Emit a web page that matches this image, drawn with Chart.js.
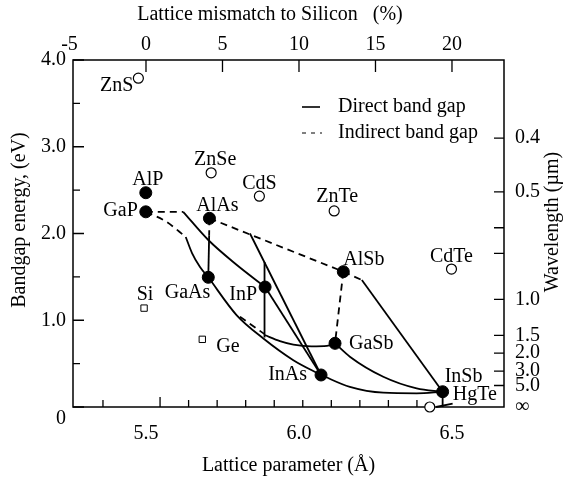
<!DOCTYPE html>
<html>
<head>
<meta charset="utf-8">
<script src="https://cdn.jsdelivr.net/npm/chart.js@4/dist/chart.umd.min.js"></script>
<style>
html,body{margin:0;padding:0;background:#fff;}
#wrap{width:569px;height:478px;}
</style>
</head>
<body>
<div id="wrap"><canvas id="c" width="569" height="478"></canvas></div>
<script>
// ---------------- DATA ----------------
// III-V compounds (filled circles): lattice parameter (Å), band gap (eV)
const iiivNames   = ['AlP', 'GaP', 'AlAs', 'GaAs', 'InP', 'AlSb', 'GaSb', 'InAs', 'InSb'];
const iiivLattice = [5.45, 5.45, 5.673, 5.669, 5.868, 6.142, 6.113, 6.064, 6.49];
const iiivGap     = [2.47, 2.25, 2.175, 1.495, 1.383, 1.56, 0.734, 0.369, 0.176];

// II-VI compounds (open circles)
const iiviNames   = ['ZnS', 'ZnSe', 'CdS', 'ZnTe', 'CdTe', 'HgTe'];
const iiviLattice = [5.424, 5.679, 5.848, 6.110, 6.521, 6.445];
const iiviGap     = [3.79, 2.70, 2.43, 2.26, 1.59, 0.0];

// Group IV (open squares)
const ivNames   = ['Si', 'Ge'];
const ivLattice = [5.444, 5.648];
const ivGap     = [1.14, 0.78];

// Alloy curves: [lattice, gap] points; "ind" = indirect (dashed), "dir" = direct (solid)
const GaP_InP_ind   = [[5.45, 2.25], [5.581, 2.25]];
const GaP_InP_dir   = [[5.581, 2.25], [5.669, 1.925], [5.768, 1.64], [5.868, 1.383]];
const GaP_GaAs_ind  = [[5.45, 2.25], [5.52, 2.14], [5.59, 1.96]];
const GaP_GaAs_dir  = [[5.59, 1.96], [5.612, 1.775], [5.640, 1.614], [5.669, 1.495]];
const AlAs_GaAs_ind = [[5.673, 2.175], [5.672, 1.98]];
const AlAs_GaAs_dir = [[5.672, 1.98], [5.669, 1.495]];
const AlAs_AlSb_ind = [[5.673, 2.175], [6.142, 1.56]];
const AlSb_InSb_ind = [[6.142, 1.56], [6.207, 1.464]];
const AlSb_InSb_dir = [[6.207, 1.464], [6.49, 0.176]];
const AlSb_GaSb_ind = [[6.142, 1.56], [6.113, 0.734]];
const GaSb_InSb_dir = [[6.113, 0.734], [6.165, 0.58], [6.282, 0.349], [6.399, 0.215], [6.49, 0.176]];
const InAs_InSb_dir = [[6.064, 0.369], [6.165, 0.232], [6.282, 0.165], [6.399, 0.158], [6.49, 0.176]];
const InP_InAs_dir  = [[5.868, 1.383], [6.064, 0.369]];
const AlInAs_dir    = [[5.815, 2.0], [6.064, 0.369]];
const InP_match_dir = [[5.866, 1.671], [5.866, 0.80]];
const GaAs_InAs_dir = [[5.669, 1.495], [5.768, 1.06], [5.862, 0.79], [5.967, 0.54], [6.064, 0.369]];
const GaAsSb_ind    = [[5.78, 1.04], [5.866, 0.84]];
const GaAsSb_dir    = [[5.866, 0.83], [5.92, 0.76], [5.967, 0.72], [6.03, 0.70], [6.085, 0.705], [6.113, 0.734]];
const InSb_stub_dir = [[6.49, 0.176], [6.49, 0.0]];
const HgTe_stub_dir = [[6.467, 0.0], [6.525, 0.04]];

// Axis ticks
const energyTicks        = [0, 1, 2, 3, 4];
const energyMinorTicks   = [0.5, 1.5, 2.5, 3.5];
const latticeTickLabels  = [5.5, 6.0, 6.5];
const latticeMinorTicks  = [5.3, 5.5, 5.6, 5.7, 5.8, 5.9, 6.0, 6.1, 6.2, 6.3, 6.4];
const mismatchTicks      = [-5, 0, 5, 10, 15, 20];
const wavelengthTicks    = [0.4, 0.5, 0.6, 0.7, 1.0, 1.5, 2.0, 3.0, 5.0, Infinity];
const wavelengthLabels   = ['0.4', '0.5', '', '', '1.0', '1.5', '2.0', '3.0', '5.0', '\u221E'];

// ---------------- STYLE ----------------
const FONT = "'Liberation Serif', 'Times New Roman', serif";
Chart.defaults.font.family = FONT;
Chart.defaults.font.size = 20;
Chart.defaults.color = '#000';

const labelStyle = {
  AlP:  {dx: 2,   dy: -13, align: 'center'},
  GaP:  {dx: -8,  dy: -1,  align: 'right'},
  AlAs: {dx: 8,   dy: -13, align: 'center'},
  GaAs: {dx: 2,   dy: 15,  align: 'right'},
  InP:  {dx: -8,  dy: 8,   align: 'right'},
  AlSb: {dx: 0,   dy: -12, align: 'left'},
  GaSb: {dx: 14,  dy: 0,   align: 'left'},
  InAs: {dx: -14, dy: 0,   align: 'right'},
  InSb: {dx: 2,   dy: -15, align: 'left'},
  ZnS:  {dx: -5,  dy: 8,   align: 'right'},
  ZnSe: {dx: 4,   dy: -13, align: 'center'},
  CdS:  {dx: 0,   dy: -12, align: 'center'},
  ZnTe: {dx: 3,   dy: -14, align: 'center'},
  CdTe: {dx: 0,   dy: -12, align: 'center'},
  HgTe: {dx: 23,  dy: -12, align: 'left'},
  Si:   {dx: 1,   dy: -13, align: 'center'},
  Ge:   {dx: 14,  dy: 7,   align: 'left'}
};

const toXY = arr => arr.map(p => ({x: p[0], y: p[1]}));
const wlEnergy = w => (w === Infinity ? 0 : 1.2398 / w);

function curve(points, dashed) {
  const ds = {
    type: 'scatter',
    data: toXY(points),
    showLine: true,
    pointRadius: 0,
    borderColor: '#000',
    borderWidth: 1.8,
    borderDash: dashed ? [7, 5] : [],
    clip: false,
    xAxisID: 'x', yAxisID: 'y'
  };
  if (points.length > 2) ds.cubicInterpolationMode = 'monotone';
  return ds;
}

const markerSets = [
  {type: 'scatter', data: iiivLattice.map((x, i) => ({x, y: iiivGap[i]})),
   pointRadius: 6, pointBackgroundColor: '#000', pointBorderColor: '#000', pointBorderWidth: 1,
   showLine: false, clip: false, xAxisID: 'x', yAxisID: 'y'},
  {type: 'scatter', data: iiviLattice.map((x, i) => ({x, y: iiviGap[i]})),
   pointRadius: 5, pointBackgroundColor: '#fff', pointBorderColor: '#000', pointBorderWidth: 1.2,
   showLine: false, clip: false, xAxisID: 'x', yAxisID: 'y'},
  {type: 'scatter', data: ivLattice.map((x, i) => ({x, y: ivGap[i]})),
   pointStyle: 'rect', pointRadius: 4.5, pointBackgroundColor: '#fff', pointBorderColor: '#000', pointBorderWidth: 1,
   showLine: false, clip: false, xAxisID: 'x', yAxisID: 'y'}
];

const curveSets = [
  curve(GaP_InP_ind, true), curve(GaP_InP_dir, false),
  curve(GaP_GaAs_ind, true), curve(GaP_GaAs_dir, false),
  curve(AlAs_GaAs_ind, true), curve(AlAs_GaAs_dir, false),
  curve(AlAs_AlSb_ind, true),
  curve(AlSb_InSb_ind, true), curve(AlSb_InSb_dir, false),
  curve(AlSb_GaSb_ind, true),
  curve(GaSb_InSb_dir, false), curve(InAs_InSb_dir, false),
  curve(InP_InAs_dir, false), curve(AlInAs_dir, false),
  curve(InP_match_dir, false), curve(GaAs_InAs_dir, false),
  curve(GaAsSb_ind, true), curve(GaAsSb_dir, false),
  curve(InSb_stub_dir, false), curve(HgTe_stub_dir, false)
];

function rotatedText(ctx, text, x, y) {
  ctx.save();
  ctx.translate(x, y);
  ctx.rotate(-Math.PI / 2);
  ctx.textAlign = 'center';
  ctx.textBaseline = 'middle';
  ctx.fillText(text, 0, 0);
  ctx.restore();
}

const decor = {
  id: 'decor',
  beforeDatasetsDraw(chart) {
    const {ctx, chartArea: ca, scales} = chart;
    ctx.save();
    ctx.strokeStyle = '#000';
    ctx.lineWidth = 1.5;
    ctx.setLineDash([]);
    ctx.strokeRect(ca.left, ca.top, ca.right - ca.left, ca.bottom - ca.top);
    ctx.lineWidth = 1.3;
    ctx.beginPath();
    energyTicks.forEach(v => { const y = scales.y.getPixelForValue(v); ctx.moveTo(ca.left, y); ctx.lineTo(ca.left + 11, y); });
    energyMinorTicks.forEach(v => { const y = scales.y.getPixelForValue(v); ctx.moveTo(ca.left, y); ctx.lineTo(ca.left + 7, y); });
    wavelengthTicks.forEach(w => { if (w === Infinity) return; const y = scales.yR.getPixelForValue(wlEnergy(w)); ctx.moveTo(ca.right, y); ctx.lineTo(ca.right - 10, y); });
    latticeMinorTicks.forEach(v => { const x = scales.x.getPixelForValue(v); const l = (Math.abs(v - 5.5) < 1e-6) ? 10 : 7; ctx.moveTo(x, ca.bottom); ctx.lineTo(x, ca.bottom - l); });
    mismatchTicks.forEach(v => { if (v === -5) return; const x = scales.xTop.getPixelForValue(v); ctx.moveTo(x, ca.top); ctx.lineTo(x, ca.top + 12); });
    ctx.stroke();
    ctx.restore();
  },
  afterDatasetsDraw(chart) {
    const {ctx, scales} = chart;
    ctx.save();
    ctx.fillStyle = '#000';
    ctx.font = '20px ' + FONT;
    ctx.textBaseline = 'middle';
    const groups = [[iiivNames, iiivLattice, iiivGap], [iiviNames, iiviLattice, iiviGap], [ivNames, ivLattice, ivGap]];
    groups.forEach(([names, xs, ys]) => {
      names.forEach((n, i) => {
        const st = labelStyle[n];
        const px = scales.x.getPixelForValue(xs[i]);
        const py = scales.y.getPixelForValue(ys[i]);
        ctx.textAlign = st.align;
        ctx.fillText(n, px + st.dx, py + st.dy);
      });
    });
    // legend
    ctx.strokeStyle = '#000';
    ctx.lineWidth = 1.6;
    ctx.setLineDash([]);
    ctx.beginPath(); ctx.moveTo(302, 107); ctx.lineTo(320, 107); ctx.stroke();
    ctx.lineWidth = 1;
    ctx.setLineDash([4, 5]);
    ctx.beginPath(); ctx.moveTo(302, 133); ctx.lineTo(322, 133); ctx.stroke();
    ctx.setLineDash([]);
    ctx.textAlign = 'left';
    ctx.fillText('Direct band gap', 338, 107);
    ctx.fillText('Indirect band gap', 338, 133);
    // axis titles placed as in the reference
    ctx.textAlign = 'center';
    ctx.fillText('Lattice mismatch to Silicon   (%)', 270, 15);
    rotatedText(ctx, 'Bandgap energy, (eV)', 20, 220);
    rotatedText(ctx, 'Wavelength (\u00B5m)', 553, 222);
    ctx.restore();
  }
};

new Chart(document.getElementById('c'), {
  type: 'scatter',
  data: { datasets: [...markerSets, ...curveSets] },
  options: {
    responsive: false,
    animation: false,
    layout: { padding: 0 },
    plugins: { legend: { display: false }, tooltip: { enabled: false } },
    scales: {
      x: { type: 'linear', position: 'bottom', min: 5.195, max: 6.705, display: false },
      xLab: {
        type: 'linear', position: 'bottom', min: 5.2614, max: 6.670,
        grid: { display: false, drawTicks: false }, border: { display: false },
        ticks: { padding: 15, autoSkip: false, maxRotation: 0, callback: v => v.toFixed(1) },
        afterBuildTicks: s => { s.ticks = latticeTickLabels.map(v => ({value: v})); },
        afterFit: s => { s.height = 71; },
        title: { display: true, text: 'Lattice parameter (\u00C5)', padding: { top: 0, bottom: 0 } }
      },
      xTop: {
        type: 'linear', position: 'top', min: -4.771, max: 23.40,
        grid: { display: false, drawTicks: false }, border: { display: false },
        ticks: { padding: 3, autoSkip: false, maxRotation: 0, callback: v => String(v) },
        afterBuildTicks: s => { s.ticks = mismatchTicks.map(v => ({value: v})); },
        afterFit: s => { s.height = 60; },
        title: { display: false }
      },
      y: {
        type: 'linear', position: 'left', min: 0, max: 4,
        grid: { display: false, drawTicks: false }, border: { display: false },
        ticks: { padding: 7, autoSkip: false, callback: v => (v === 0 ? ['', '0'] : v.toFixed(1)) },
        afterBuildTicks: s => { s.ticks = energyTicks.map(v => ({value: v})); },
        afterFit: s => { s.width = 73; },
        title: { display: false }
      },
      yR: {
        type: 'linear', position: 'right', min: 0, max: 4,
        grid: { display: false, drawTicks: false }, border: { display: false },
        ticks: { padding: 11, autoSkip: false, callback: (v, i) => wavelengthLabels[i] },
        afterBuildTicks: s => { s.ticks = wavelengthTicks.map(w => ({value: wlEnergy(w)})); },
        afterFit: s => { s.width = 65; },
        title: { display: false }
      }
    }
  },
  plugins: [decor]
});
</script>
</body>
</html>
